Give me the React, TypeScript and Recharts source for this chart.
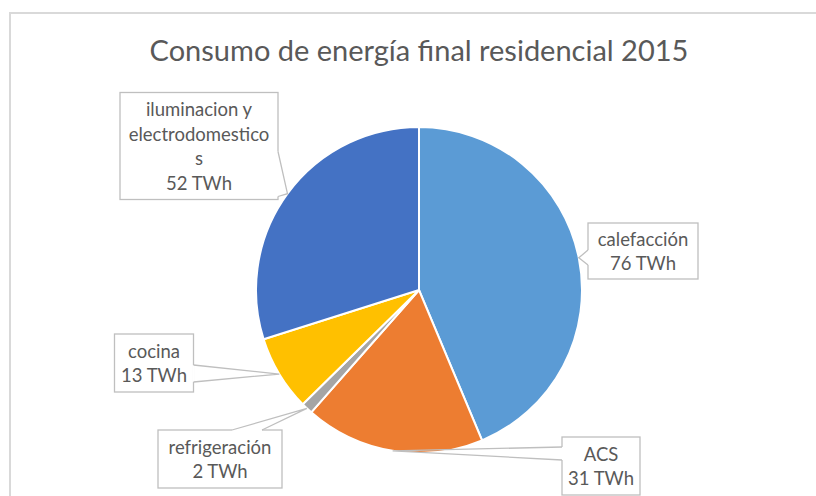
import React from 'react';
import { PieChart, Pie, Cell } from 'recharts';

const categories = ['calefacción', 'ACS', 'refrigeración', 'cocina', 'iluminacion y electrodomesticos'];
const values = [76, 31, 2, 13, 52];
const unit = 'TWh';
const colors = ['#5B9BD5', '#ED7D31', '#A5A5A5', '#FFC000', '#4472C4'];

// callout boxes: centre offset from pie centre, size, wedge base on one side (from/to along that side)
const callouts = [
  { dx: 224, dy: -39, w: 110, h: 56, side: 'left', from: 27, to: 42, wrap: 20 },
  { dx: 182, dy: 176, w: 78, h: 58, side: 'left', from: 10, to: 23, wrap: 20 },
  { dx: -199, dy: 169, w: 124, h: 58, side: 'top', from: 74, to: 104, wrap: 20 },
  { dx: -265, dy: 73, w: 79, h: 58, side: 'right', from: 31, to: 48, wrap: 20 },
  { dx: -220, dy: -144, w: 158, h: 107, side: 'right', from: 59, to: 104, wrap: 16 },
];

const data = categories.map((name, i) => ({ name, value: values[i] }));

const RADIAN = Math.PI / 180;
const FONT = "Lato, 'Noto Sans', sans-serif";

const wrapText = (text: string, max: number) => {
  const lines: string[] = [];
  let cur = '';
  text.split(' ').forEach((word) => {
    let w = word;
    const cand = cur ? cur + ' ' + w : w;
    if (cand.length <= max) {
      cur = cand;
      return;
    }
    if (cur) lines.push(cur);
    while (w.length > max) {
      lines.push(w.slice(0, max));
      w = w.slice(max);
    }
    cur = w;
  });
  if (cur) lines.push(cur);
  return lines;
};

const renderLabel = (props: any) => {
  const { cx, cy, midAngle, outerRadius, index, name, value } = props;
  const c = callouts[index];
  const tx = cx + outerRadius * Math.cos(-midAngle * RADIAN);
  const ty = cy + outerRadius * Math.sin(-midAngle * RADIAN);
  const x0 = cx + c.dx - c.w / 2;
  const y0 = cy + c.dy - c.h / 2;
  let b1: [number, number];
  let b2: [number, number];
  if (c.side === 'left') {
    b1 = [x0, y0 + c.from];
    b2 = [x0, y0 + c.to];
  } else if (c.side === 'right') {
    b1 = [x0 + c.w, y0 + c.from];
    b2 = [x0 + c.w, y0 + c.to];
  } else {
    b1 = [x0 + c.from, y0];
    b2 = [x0 + c.to, y0];
  }
  const lines = [...wrapText(name, c.wrap), `${value} ${unit}`];
  const lh = 24.5;
  const startY = cy + c.dy - ((lines.length - 1) * lh) / 2;
  return (
    <g key={`lbl-${index}`}>
      <rect x={x0} y={y0} width={c.w} height={c.h} fill="#fff" stroke="#BFBFBF" strokeWidth={1.3} />
      <line x1={b1[0]} y1={b1[1]} x2={b2[0]} y2={b2[1]} stroke="#fff" strokeWidth={2.5} />
      <polyline
        points={`${b1[0]},${b1[1]} ${tx},${ty} ${b2[0]},${b2[1]}`}
        fill="none"
        stroke="#BFBFBF"
        strokeWidth={1.3}
      />
      <text x={cx + c.dx} textAnchor="middle" fill="#595959" fontSize={18.5} fontFamily={FONT}>
        {lines.map((ln, i) => (
          <tspan key={i} x={cx + c.dx} y={startY + i * lh} dominantBaseline="central">
            {ln}
          </tspan>
        ))}
      </text>
    </g>
  );
};

export default function App() {
  return (
    <div style={{ position: 'absolute', left: 0, top: 0, width: 816, height: 496, background: '#fff', overflow: 'hidden' }}>
      <div
        style={{
          position: 'absolute',
          left: 9,
          top: 12,
          width: 900,
          height: 600,
          borderTop: '2px solid #D9D9D9',
          borderLeft: '2px solid #D9D9D9',
        }}
      />
      <div
        style={{
          position: 'absolute',
          left: 0,
          top: 31,
          width: 838,
          textAlign: 'center',
          fontFamily: FONT,
          fontSize: 29,
          color: '#595959',
          lineHeight: '38px',
        }}
      >
        Consumo de energía final residencial 2015
      </div>
      <div style={{ position: 'absolute', left: 0, top: 0 }}>
        <PieChart width={816} height={496} margin={{ top: 0, right: 0, bottom: 0, left: 0 }}>
          <Pie
            data={data}
            dataKey="value"
            nameKey="name"
            cx={419}
            cy={290}
            outerRadius={163}
            startAngle={90}
            endAngle={-270}
            stroke="#fff"
            strokeWidth={2}
            label={renderLabel}
            labelLine={false}
            isAnimationActive={false}
          >
            {data.map((d, i) => (
              <Cell key={d.name} fill={colors[i]} />
            ))}
          </Pie>
        </PieChart>
      </div>
    </div>
  );
}
